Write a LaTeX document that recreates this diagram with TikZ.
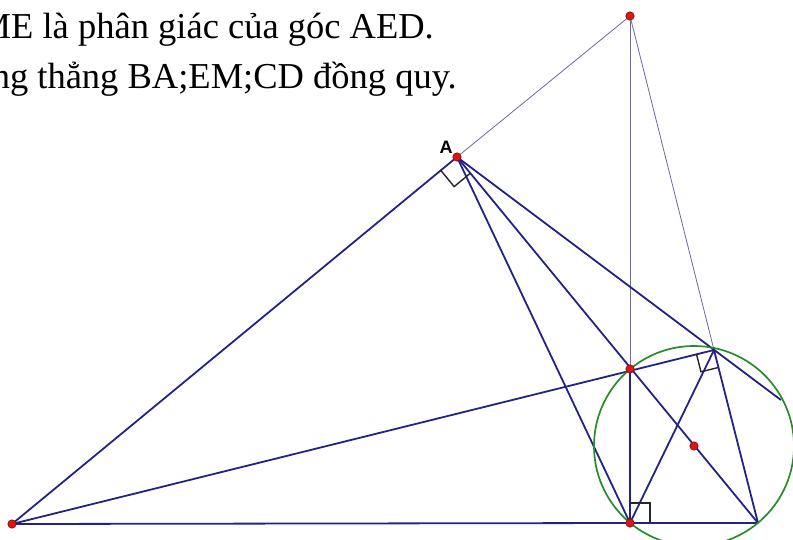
\documentclass[tikz,border=0pt]{standalone}
\usepackage{fontspec}
\setmainfont{Liberation Serif}
\newfontfamily\labelfont{Liberation Sans}
\usetikzlibrary{calc}
\definecolor{navy}{RGB}{35,35,135}
\definecolor{thinline}{RGB}{105,105,165}
\definecolor{circgreen}{RGB}{40,140,40}
\definecolor{dotred}{RGB}{225,20,20}
\begin{document}
\begin{tikzpicture}[x=1pt,y=-1pt,
  thickseg/.style={navy, line width=1.8pt},
  thinseg/.style={thinline, line width=0.8pt},
  rightmark/.style={black!85, line width=1.4pt},
  ptdot/.style={fill=dotred, draw=dotred!55!black, line width=0.6pt},
  statement/.style={font=\fontsize{36.5}{40}\selectfont, inner sep=0pt, anchor=base east}]
\useasboundingbox (0,0) rectangle (793,539);
\begin{scope}
\clip (0,0) rectangle (793,539);
\node[statement] (s1) at (434,38) {ME là phân giác của góc AED.};
\node[statement] (s2) at (457,88) {đường thẳng BA;EM;CD đồng quy.};
\end{scope}
% points
\coordinate (B) at (12,524);
\coordinate (A) at (457,157);
\coordinate (T) at (630,16);
\coordinate (M) at (630,369);
\coordinate (D) at (630,523);
\coordinate (O) at (694,446);
\coordinate (C) at (758,523);
\coordinate (E) at (714,350);
\coordinate (F) at (781,400);
% thin lines
\draw[thinseg] (A) -- (T);
\draw[thinseg] (T) -- (M);
\draw[thinseg] (T) -- (E);
% thick lines
\draw[thickseg] (B) -- (A);
\draw[thickseg] (B) -- (D) -- (C);
\draw[thickseg] (B) -- (E);
\draw[thickseg] (A) -- (D);
\draw[thickseg] (A) -- (C);
\draw[thickseg] (A) -- (F);
\draw[thickseg] (M) -- (D);
\draw[thickseg] (D) -- (E) -- (C);
% circle
\draw[circgreen, line width=1.7pt] (O) circle (100pt);
% right angle marks
\coordinate (a1) at ($(A)!21pt!(B)$);
\coordinate (a2) at ($(A)!21pt!(C)$);
\draw[rightmark] (a1) -- ($(a1)+(a2)-(A)$) -- (a2);
\coordinate (d1) at ($(D)!20pt!(M)$);
\coordinate (d2) at ($(D)!20pt!(C)$);
\draw[rightmark] (d1) -- ($(d1)+(d2)-(D)$) -- (d2);
\coordinate (e1) at ($(E)!18pt!(B)$);
\coordinate (e2) at ($(E)!18pt!(C)$);
\draw[rightmark] (e1) -- ($(e1)+(e2)-(E)$) -- (e2);
% dots
\foreach \p in {B,A,T,M,D,O} \draw[ptdot] (\p) circle (4.2pt);
\node[font=\labelfont\bfseries\fontsize{18}{20}\selectfont, inner sep=0pt] (lA) at (446,147) {A};
\end{tikzpicture}
\end{document}
